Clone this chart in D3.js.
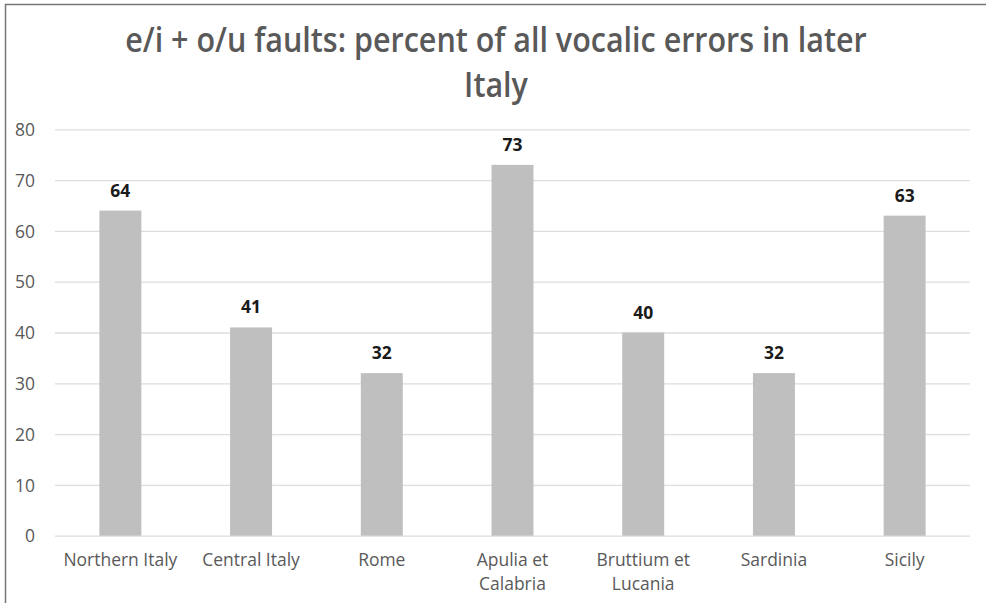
<!DOCTYPE html>
<html>
<head>
<meta charset="utf-8">
<script src="https://cdn.jsdelivr.net/npm/d3@7"></script>
<style>
  html, body { margin: 0; padding: 0; background: #fff; }
  svg { display: block; }
</style>
</head>
<body>
<svg id="chart" width="986" height="603"></svg>
<script>
const titleLines = ["e/i + o/u faults: percent of all vocalic errors in later", "Italy"];
const categories = ["Northern Italy", "Central Italy", "Rome", "Apulia et Calabria", "Bruttium et Lucania", "Sardinia", "Sicily"];
const categoryLines = [["Northern Italy"], ["Central Italy"], ["Rome"], ["Apulia et", "Calabria"], ["Bruttium et", "Lucania"], ["Sardinia"], ["Sicily"]];
const values = [64, 41, 32, 73, 40, 32, 63];
const yTicks = [0, 10, 20, 30, 40, 50, 60, 70, 80];

const W = 986, H = 603;
const plot = { left: 55, right: 970, top: 129.3, bottom: 535.7 };
const svg = d3.select("#chart");

svg.append("rect").attr("width", W).attr("height", H).attr("fill", "#fff");

// frame (left + top border)
svg.append("path")
  .attr("d", `M5.5,${H} L5.5,4.5 L${W},4.5`)
  .attr("fill", "none").attr("stroke", "#767676").attr("stroke-width", 1.5);

const x = d3.scaleBand().domain(categories).range([plot.left, plot.right])
  .paddingInner(0.679).paddingOuter(0.3395);
const y = d3.scaleLinear().domain([0, 80]).range([plot.bottom, plot.top]);

const labelFont = "'Open Sans', 'Noto Sans', sans-serif";

function measure(text, family, weight, size) {
  const t = svg.append("text").attr("font-family", family).attr("font-weight", weight)
    .attr("font-size", size).text(text);
  const w = t.node().getComputedTextLength();
  t.remove();
  return w;
}

const axisFs = 100 * 114 / measure("Northern Italy", labelFont, 400, 100);

// gridlines + y axis
const yAxis = d3.axisLeft(y).tickValues(yTicks).tickSize(-(plot.right - plot.left)).tickPadding(20);
const gy = svg.append("g").attr("transform", `translate(${plot.left},0)`).call(yAxis);
gy.select(".domain").remove();
gy.selectAll(".tick line").attr("stroke", "#dedede").attr("stroke-width", 1.3);
gy.selectAll(".tick text").attr("font-family", labelFont).attr("font-size", axisFs)
  .attr("fill", "#595959").attr("dy", "0.36em");

// bars
svg.append("g").selectAll("rect").data(values).join("rect")
  .attr("x", (d, i) => x(categories[i]))
  .attr("width", x.bandwidth())
  .attr("y", d => y(d))
  .attr("height", d => y(0) - y(d))
  .attr("fill", "#bfbfbf");

// data labels
svg.append("g").selectAll("text").data(values).join("text")
  .attr("x", (d, i) => x(categories[i]) + x.bandwidth() / 2)
  .attr("y", d => y(d) - 14)
  .attr("text-anchor", "middle")
  .attr("font-family", labelFont).attr("font-weight", 700)
  .attr("font-size", axisFs)
  .attr("fill", "#1a1a1a")
  .text(d => d);

// x axis labels
const xAxis = d3.axisBottom(x).tickSize(0).tickFormat("");
const gx = svg.append("g").attr("transform", `translate(0,${plot.bottom})`).call(xAxis);
gx.select(".domain").remove();
gx.selectAll(".tick").each(function(d, i) {
  const t = d3.select(this).append("text")
    .attr("text-anchor", "middle")
    .attr("font-family", labelFont).attr("font-size", axisFs)
    .attr("fill", "#595959");
  categoryLines[i].forEach((ln, j) => {
    t.append("tspan").attr("x", 0).attr("y", 30.5 + j * 24).text(ln);
  });
});

// title (condensed horizontally to match the narrow original face)
const titleFamily = "'Open Sans', 'Noto Sans', sans-serif";
const titleFs = 33.5;
const titleK = 742 / measure(titleLines[0], titleFamily, 600, titleFs);
svg.append("g").selectAll("text").data(titleLines).join("text")
  .attr("transform", (d, i) => `translate(496,${52 + i * 45}) scale(${titleK},1)`)
  .attr("text-anchor", "middle")
  .attr("font-family", titleFamily).attr("font-weight", 600)
  .attr("font-size", titleFs)
  .attr("fill", "#595959")
  .text(d => d);
</script>
</body>
</html>
